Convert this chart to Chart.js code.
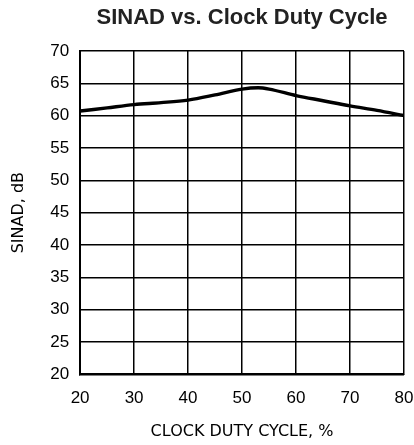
<!DOCTYPE html>
<html>
<head>
<meta charset="utf-8">
<script src="https://cdn.jsdelivr.net/npm/chart.js@4"></script>
<style>
  body { margin: 0; background: #fff; }
  #wrap { width: 414px; height: 445px; }
</style>
</head>
<body>
<div id="wrap"><canvas id="myChart" width="414" height="445"></canvas></div>
<script>
const dutyCycle = [20, 25, 30, 35, 40, 45, 50, 53, 55, 60, 65, 70, 75, 80];
const sinad = [60.7, 61.2, 61.7, 62.0, 62.4, 63.2, 64.1, 64.3, 64.1, 63.1, 62.3, 61.5, 60.8, 60.0];

const points = dutyCycle.map((x, i) => ({ x: x, y: sinad[i] }));

const config = {
  type: "scatter",
  data: {
    datasets: [
      {
        data: points,
        showLine: true,
        borderColor: "#000",
        borderWidth: 3.4,
        pointRadius: 0,
        cubicInterpolationMode: "monotone",
      },
    ],
  },
  options: {
    responsive: false,
    animation: false,
    layout: { padding: { left: 5.5, right: 10, top: 0, bottom: 0 } },
    plugins: {
      legend: { display: false },
      tooltip: { enabled: false },
      title: {
        display: true,
        fullSize: false,
        text: "SINAD vs. Clock Duty Cycle",
        color: "#222",
        font: { family: "Liberation Sans", size: 22, weight: "bold" },
        padding: { top: 5, bottom: 19.5 },
      },
    },
    scales: {
      x: {
        type: "linear",
        min: 20,
        max: 80,
        afterFit: (scale) => {
          scale.paddingRight = 0;
        },
        ticks: {
          stepSize: 10,
          color: "#000",
          font: { family: "Liberation Sans", size: 17 },
          padding: 14,
        },
        grid: { color: "#000", lineWidth: 1.5, tickLength: 0 },
        border: { color: "#000", width: 2 },
        title: {
          display: true,
          text: "CLOCK DUTY CYCLE, %",
          color: "#000",
          font: { family: "DejaVu Sans", size: 16 },
          padding: { top: -1 },
        },
      },
      y: {
        min: 20,
        max: 70,
        ticks: {
          stepSize: 5,
          color: "#000",
          font: { family: "Liberation Sans", size: 17 },
          padding: 11,
        },
        grid: { color: "#000", lineWidth: 1.5, tickLength: 0 },
        border: { color: "#000", width: 2 },
        title: {
          display: true,
          text: "SINAD, dB",
          color: "#000",
          font: { family: "DejaVu Sans", size: 16 },
          padding: { bottom: 10.5 },
        },
      },
    },
  },
};
const myChart = new Chart(document.getElementById("myChart"), config);
</script>
</body>
</html>
